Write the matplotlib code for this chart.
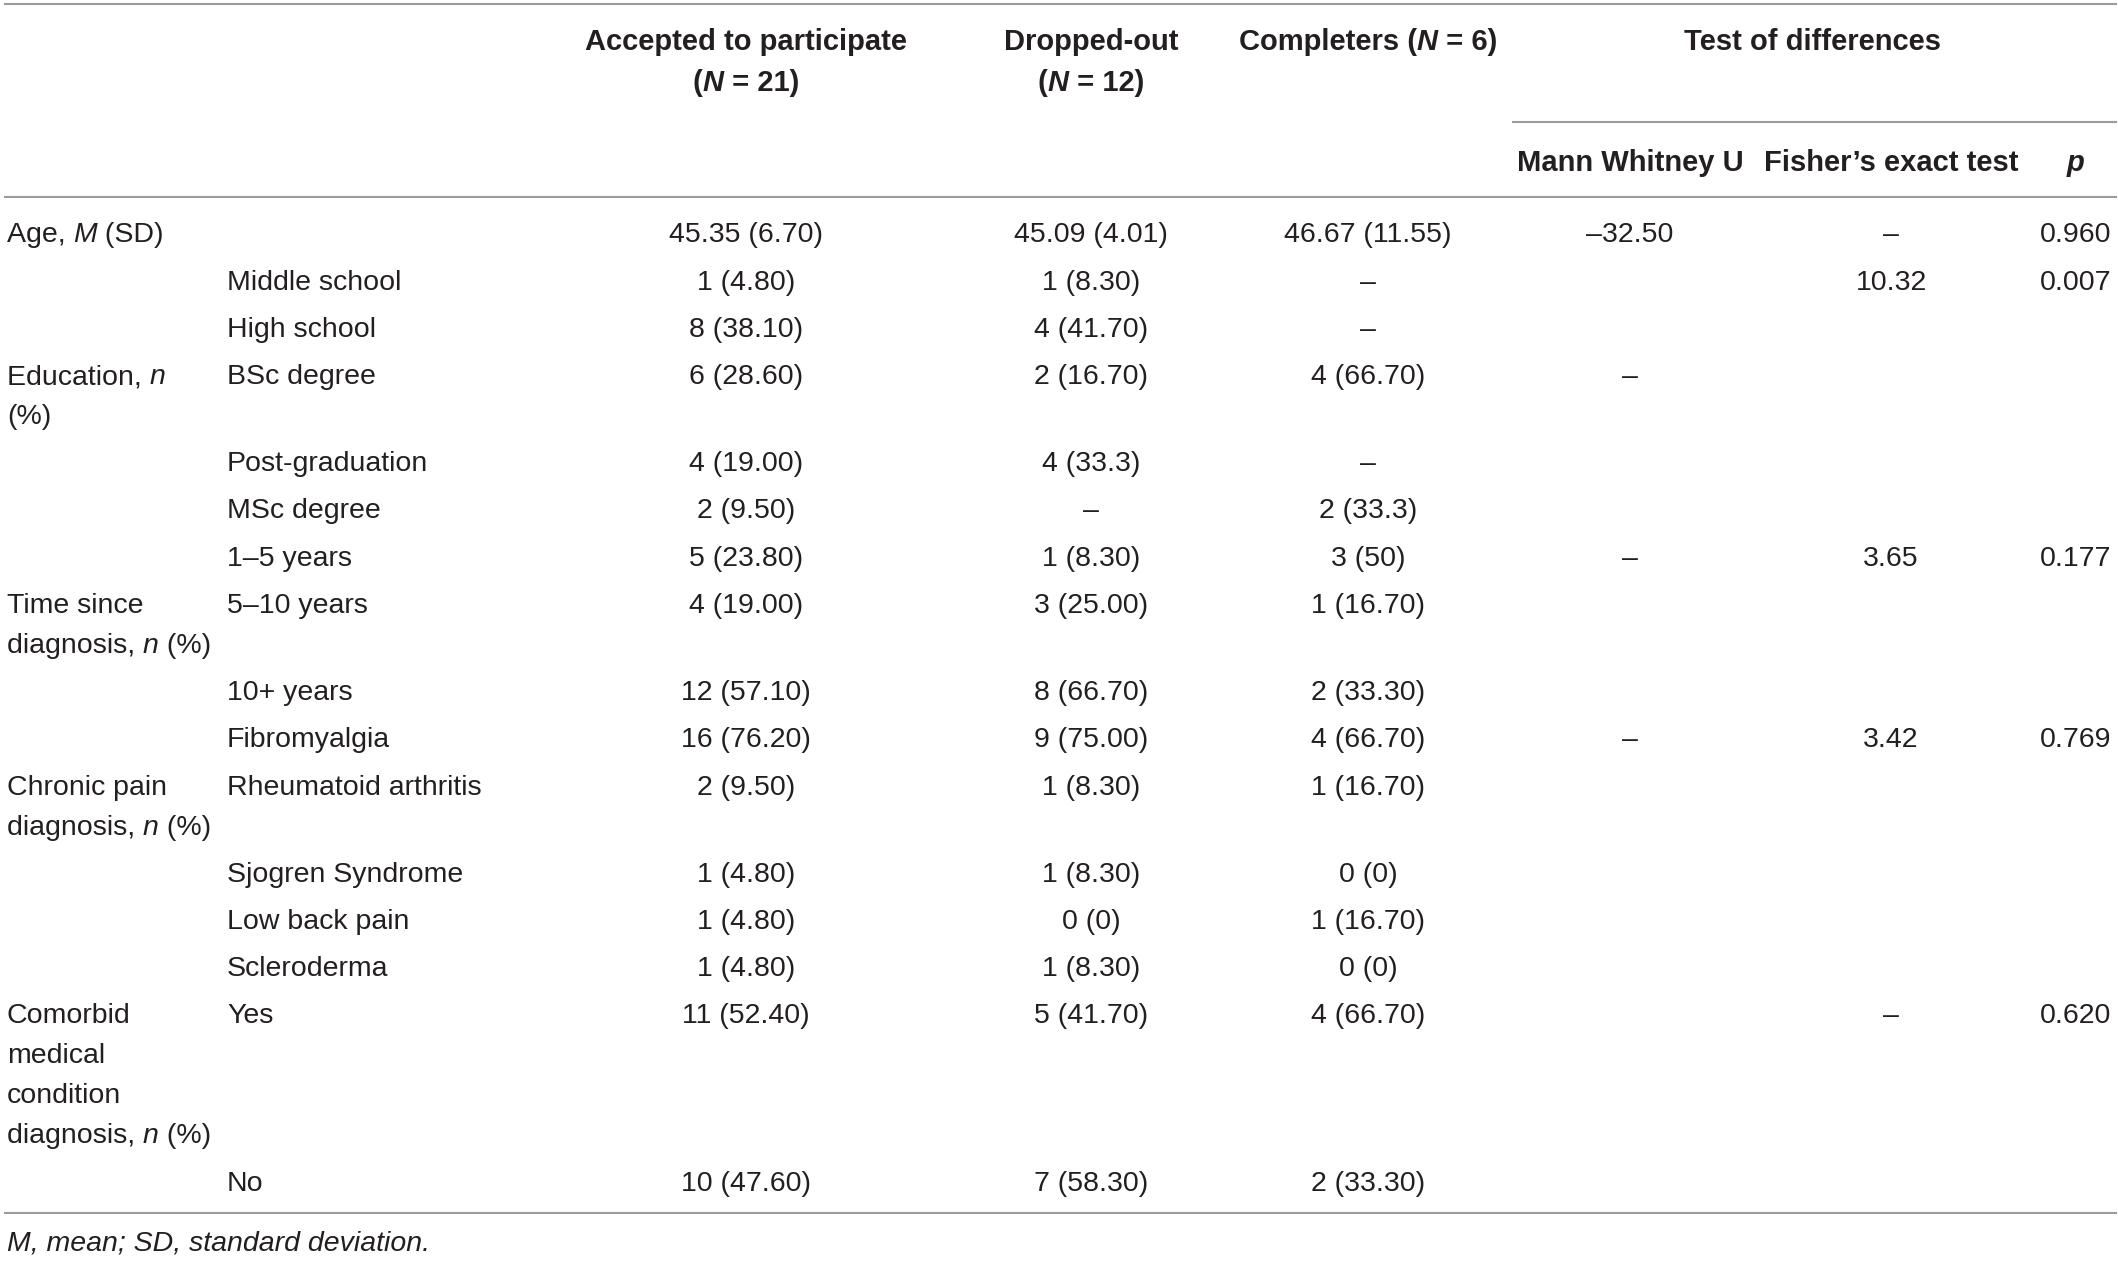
import matplotlib
matplotlib.use("Agg")
import matplotlib.pyplot as plt

plt.rcParams['font.family'] = ['Liberation Sans', 'DejaVu Sans']

W, H = 2118, 1262
FS = 20.5
FS_BOLD = 21
TXT = '#231f20'
LINE = '#9c9c9c'

# ---- table content ----
col_headers = ["Accepted to participate\n(*N* = 21)", "Dropped-out\n(*N* = 12)", "Completers (*N* = 6)"]
test_header = "Test of differences"
test_subheaders = ["Mann Whitney U", "Fisher\u2019s exact test", "*p*"]

group_rows = [0, 3, 7, 10, 14]
group_labels = ["Age, *M* (SD)",
                "Education, *n*\n(%)",
                "Time since\ndiagnosis, *n* (%)",
                "Chronic pain\ndiagnosis, *n* (%)",
                "Comorbid\nmedical\ncondition\ndiagnosis, *n* (%)"]

subcats = ["", "Middle school", "High school", "BSc degree", "Post-graduation", "MSc degree",
           "1\u20135 years", "5\u201310 years", "10+ years", "Fibromyalgia", "Rheumatoid arthritis",
           "Sjogren Syndrome", "Low back pain", "Scleroderma", "Yes", "No"]
accepted = ["45.35 (6.70)", "1 (4.80)", "8 (38.10)", "6 (28.60)", "4 (19.00)", "2 (9.50)",
            "5 (23.80)", "4 (19.00)", "12 (57.10)", "16 (76.20)", "2 (9.50)", "1 (4.80)",
            "1 (4.80)", "1 (4.80)", "11 (52.40)", "10 (47.60)"]
dropped = ["45.09 (4.01)", "1 (8.30)", "4 (41.70)", "2 (16.70)", "4 (33.3)", "\u2013",
           "1 (8.30)", "3 (25.00)", "8 (66.70)", "9 (75.00)", "1 (8.30)", "1 (8.30)",
           "0 (0)", "1 (8.30)", "5 (41.70)", "7 (58.30)"]
completers = ["46.67 (11.55)", "\u2013", "\u2013", "4 (66.70)", "\u2013", "2 (33.3)",
              "3 (50)", "1 (16.70)", "2 (33.30)", "4 (66.70)", "1 (16.70)", "0 (0)",
              "1 (16.70)", "0 (0)", "4 (66.70)", "2 (33.30)"]
mann_whitney = ["\u201332.50", "", "", "\u2013", "", "", "\u2013", "", "", "\u2013", "", "", "", "", "", ""]
fisher = ["\u2013", "10.32", "", "", "", "", "3.65", "", "", "3.42", "", "", "", "", "\u2013", ""]
p_values = ["0.960", "0.007", "", "", "", "", "0.177", "", "", "0.769", "", "", "", "", "0.620", ""]
footnote = "M, mean; SD, standard deviation."

fig = plt.figure(figsize=(W / 100, H / 100), dpi=100)
ax = fig.add_axes([0, 0, 1, 1])
ax.set_xlim(0, W)
ax.set_ylim(H, 0)
ax.axis('off')
rend = fig.canvas.get_renderer()


def style_kw(bold, italic):
    return dict(fontsize=FS_BOLD if bold else FS, fontweight='bold' if bold else 'normal',
                fontstyle='italic' if italic else 'normal', color=TXT)


def width_of(s, bold, italic):
    t = ax.text(0, 0, "|" + s + "|", **style_kw(bold, italic))
    w = t.get_window_extent(renderer=rend).width
    t.remove()
    t = ax.text(0, 0, "||", **style_kw(bold, italic))
    w0 = t.get_window_extent(renderer=rend).width
    t.remove()
    return w - w0


def rich(x, y, s, ha='left', bold=False, italic=False):
    # '*' toggles italic inside one line
    parts = s.split('*')
    runs = [(p, italic or (k % 2 == 1)) for k, p in enumerate(parts) if p]
    ws = [width_of(p, bold, it) for p, it in runs]
    total = sum(ws)
    if ha == 'center':
        x0 = x - total / 2
    elif ha == 'right':
        x0 = x - total
    else:
        x0 = x
    for (p, it), w in zip(runs, ws):
        ax.text(x0, y, p, ha='left', va='baseline', **style_kw(bold, it))
        x0 += w


def block(x, y, s, ha='left', bold=False, italic=False, step=40):
    for k, line in enumerate(s.split('\n')):
        rich(x, y + k * step, line, ha=ha, bold=bold, italic=italic)


# column positions
x_group = 7
x_sub = 227
x_cols = [746, 1091, 1368]
x_tests = [1630, 1891, 2076]

# header
for xc, hd in zip(x_cols, col_headers):
    block(xc, 50, hd, ha='center', bold=True, step=41)
block(1813, 50, test_header, ha='center', bold=True)
for xc, hd in zip(x_tests, test_subheaders):
    rich(xc, 171, hd, ha='center', bold=True)

# rules
ax.plot([5, 2116], [4, 4], color=LINE, lw=1.5)
ax.plot([1513, 2116], [122, 122], color=LINE, lw=1.5)
ax.plot([5, 2116], [197, 197], color=LINE, lw=1.5)
ax.plot([5, 2116], [1213, 1213], color=LINE, lw=1.5)

# body rows
n_lines = [1] * len(subcats)
for r, g in zip(group_rows, group_labels):
    n_lines[r] = g.count('\n') + 1

y = 242.5
row_y = []
for k in range(len(subcats)):
    row_y.append(y)
    y += 47.2 + 40 * (n_lines[k] - 1)

for r, g in zip(group_rows, group_labels):
    block(x_group, row_y[r], g)

for k, yy in enumerate(row_y):
    if subcats[k]:
        rich(x_sub, yy, subcats[k])
    for xc, col in zip(x_cols, [accepted, dropped, completers]):
        if col[k]:
            rich(xc, yy, col[k], ha='center')
    for xc, col in zip(x_tests, [mann_whitney, fisher, p_values]):
        if col[k]:
            rich(xc, yy, col[k], ha='center')

rich(x_group, 1250, footnote, italic=True)

fig.savefig("out.png", dpi=100)
